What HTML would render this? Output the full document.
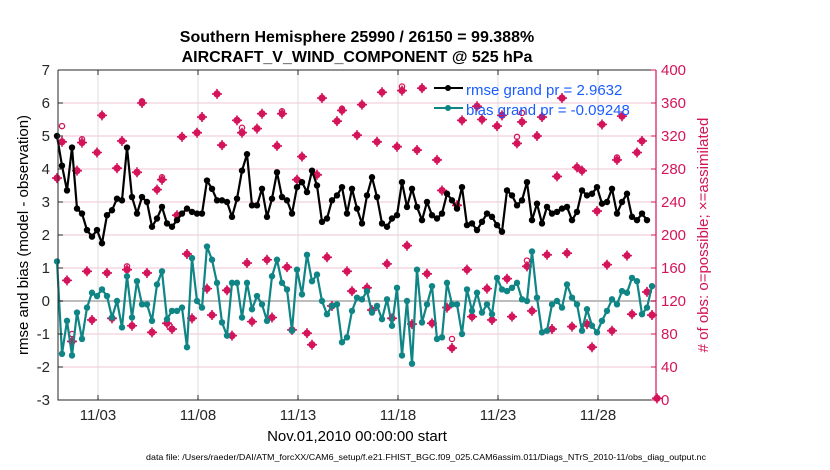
<!DOCTYPE html>
<html><head><meta charset="utf-8"><style>
body{margin:0;background:#fff;}
svg{display:block;font-family:"Liberation Sans",Arial,sans-serif;}
</style></head><body>
<svg id="chart" width="830" height="470" viewBox="0 0 830 470" xmlns="http://www.w3.org/2000/svg">
<text x="357" y="42" text-anchor="middle" font-size="16" font-weight="bold">Southern Hemisphere 25990 / 26150 = 99.388%</text>
<text x="357" y="62" text-anchor="middle" font-size="16" font-weight="bold">AIRCRAFT_V_WIND_COMPONENT @ 525 hPa</text>
<g id="grid"></g>
<g id="series"></g>
<g id="axes"></g>
<text transform="translate(28,235) rotate(-90)" text-anchor="middle" font-size="15">rmse and bias (model - observation)</text>
<text transform="translate(708,235) rotate(-90)" text-anchor="middle" font-size="15" fill="#d4145a"># of obs: o=possible; ×=assimilated</text>
<text x="357" y="441" text-anchor="middle" font-size="15">Nov.01,2010 00:00:00 start</text>
<text x="426" y="460" text-anchor="middle" font-size="8.5" textLength="560" lengthAdjust="spacingAndGlyphs">data file: /Users/raeder/DAI/ATM_forcXX/CAM6_setup/f.e21.FHIST_BGC.f09_025.CAM6assim.011/Diags_NTrS_2010-11/obs_diag_output.nc</text>
<g>
<line x1="434" y1="88" x2="463" y2="88" stroke="#000" stroke-width="2"/>
<circle cx="448" cy="88" r="3" fill="#000"/>
<text x="466" y="95" font-size="15" fill="#1a5cff">rmse grand pr = 2.9632</text>
<line x1="434" y1="108" x2="463" y2="108" stroke="#0f8585" stroke-width="2"/>
<circle cx="448" cy="108" r="3" fill="#0f8585"/>
<text x="466" y="115" font-size="15" fill="#1a5cff">bias grand pr = -0.09248</text>
</g>
</svg>
<script>
const rmse=[5.0,4.1,3.35,4.65,2.8,2.65,2.15,1.95,2.15,1.75,2.6,2.75,3.1,3.05,4.65,3.15,2.65,3.15,3.0,2.25,2.5,2.85,2.35,2.25,2.45,2.65,2.8,2.7,2.65,2.65,3.65,3.4,3.05,3.05,3.0,2.55,3.1,3.95,4.45,2.9,2.9,
3.4,2.55,3.1,3.9,3.15,3.05,2.65,3.45,3.6,3.3,3.95,3.5,2.4,2.5,3.05,3.2,3.45,2.65,3.4,2.8,2.35,3.2,3.75,3.15,2.35,2.25,2.5,2.6,3.6,2.85,3.4,2.85,2.45,3.0,2.6,2.5,2.65,
3.25,3.05,2.8,3.45,2.3,2.35,2.15,2.4,2.65,2.55,2.3,2.1,3.35,3.2,2.9,3.05,3.6,2.45,2.95,2.35,2.85,2.65,2.7,2.8,2.85,2.45,2.7,3.35,3.2,3.25,3.45,2.95,3.0,3.4,2.65,3.0,3.25,2.55,2.45,2.65,2.45];
const bias=[1.2,-1.6,-0.6,-1.65,-0.35,-1.15,-0.2,0.25,0.15,0.35,0.15,-0.5,0.0,-0.8,0.75,-0.5,0.6,-0.1,-0.1,-0.6,0.5,0.9,-0.55,-0.3,-0.3,-0.2,-1.4,1.3,0.0,-0.2,1.65,1.25,0.55,-0.65,-1.05,0.55,0.55,-0.5,0.55,-0.25,0.15,
-0.1,-0.6,0.75,1.25,0.55,0.35,-0.9,0.95,0.2,1.4,0.6,0.8,0.0,-0.4,-0.15,-0.1,-1.25,-1.1,-0.3,0.1,0.05,0.3,-0.35,-0.15,-0.55,0.05,-0.75,0.4,-1.65,0.0,-1.9,0.95,-0.65,-0.1,0.45,-1.15,-1.1,0.55,
-0.1,-0.1,-1.0,0.35,-0.3,0.25,-0.35,-0.1,-0.4,0.7,0.35,0.3,0.4,0.55,0.05,0.0,1.5,0.1,-0.95,-0.9,-0.1,0.0,-0.2,0.5,0.1,-0.1,-0.9,-0.25,-0.75,-0.95,-0.6,-0.3,0.05,-0.1,0.3,0.25,0.7,0.6,-0.4,-0.2,0.45];
const nAssim=[269,313,145,71,278,312,156,97,300,345,154,99,281,314,158,90,276,360,154,82,255,267,93,86,224,319,177,99,324,343,135,103,371,309,133,78,339,324,166,95,329,
347,170,100,308,347,161,85,267,295,81,67,273,366,173,114,338,351,156,132,321,358,136,109,313,373,165,99,307,375,187,92,303,378,153,93,291,254,112,63,236,339,
158,101,356,340,135,97,332,345,147,101,311,337,162,108,320,343,176,86,271,366,178,89,282,278,92,64,229,334,164,84,291,344,175,104,300,314,131,103,2];
const nPoss=[269,332,145,80,278,316,156,97,300,345,154,99,281,314,162,90,276,362,154,82,255,270,93,86,224,319,177,99,324,343,135,103,371,309,133,78,339,330,166,95,329,
347,170,100,308,350,161,85,267,295,81,67,273,366,173,114,338,353,156,132,321,358,136,109,313,373,165,99,307,380,187,92,303,378,153,93,291,254,112,74,236,339,
158,101,356,340,135,97,332,345,147,101,319,348,169,108,320,343,176,86,271,366,178,89,282,278,92,64,229,334,164,84,294,344,175,104,300,314,131,103,2];
const yTicksL=[-3,-2,-1,0,1,2,3,4,5,6,7];
const yTicksR=[0,40,80,120,160,200,240,280,320,360,400];
const xTickLabels=["11/03","11/08","11/13","11/18","11/23","11/28"];
const xTickIdx=[8.2,28.2,48.2,68.2,88.2,108.2];

const L=58,R=656,T=70,B=400;
const NS="http://www.w3.org/2000/svg";
const xS=i=>57+5*i;
const yL=v=>B-(v+3)*(B-T)/10;
const yR=v=>B-v*(B-T)/400;
function mk(tag,attrs,parent){const e=document.createElementNS(NS,tag);for(const k in attrs)e.setAttribute(k,attrs[k]);parent.appendChild(e);return e;}
const grid=document.getElementById('grid'),ser=document.getElementById('series'),ax=document.getElementById('axes');
const PINK="#d4145a";
yTicksL.forEach(v=>{if(v>-3&&v<7){const l=mk('line',{x1:L,x2:R,y1:yL(v),y2:yL(v),stroke:'#f2c6d6','stroke-width':1},grid);

}});
xTickIdx.forEach(t=>{const l=mk('line',{x1:xS(t),x2:xS(t),y1:T,y2:B,stroke:'#dcdcdc','stroke-width':1},grid);

});
const z=mk('line',{x1:L,x2:R,y1:yL(0),y2:yL(0),stroke:'#bdbdbd','stroke-width':2},grid);


nPoss.forEach((v,i)=>{if(v!==nAssim[i]){const c=mk('circle',{cx:xS(i),cy:yR(v),r:2.6,fill:'none',stroke:PINK,'stroke-width':1.3},ser);

}});
nAssim.forEach((v,i)=>{const g=mk('g',{transform:`translate(${xS(i)},${yR(v)})`},ser);


mk('circle',{r:3.6,fill:PINK},g);
mk('path',{d:'M-5,0H5M0,-5V5',stroke:PINK,'stroke-width':1.6},g);});
function line(arr,col,name){const p=mk('polyline',{points:arr.map((v,i)=>xS(i)+','+yL(v)).join(' '),fill:'none',stroke:col,'stroke-width':2.2,'stroke-linejoin':'round'},ser);


arr.forEach((v,i)=>{const c=mk('circle',{cx:xS(i),cy:yL(v),r:3.2,fill:col},ser);

});}
line(bias,'#0f8585','bias');
line(rmse,'#000','rmse');
mk('path',{d:`M${L},${T}H${R}M${L},${T}V${B}H${R}`,fill:'none',stroke:'#262626','stroke-width':1},ax);
mk('line',{x1:R,x2:R,y1:T,y2:B,stroke:PINK,'stroke-width':1.2},ax);
yTicksL.forEach(v=>{mk('line',{x1:L,x2:L+5,y1:yL(v),y2:yL(v),stroke:'#262626'},ax);
const t=mk('text',{x:L-8,y:yL(v)+5,'text-anchor':'end','font-size':15,fill:'#262626'},ax);t.textContent=v;

});
yTicksR.forEach(v=>{mk('line',{x1:R-5,x2:R,y1:yR(v),y2:yR(v),stroke:PINK},ax);
const t=mk('text',{x:R+5,y:yR(v)+5,'font-size':15,fill:PINK},ax);t.textContent=v;

});
xTickIdx.forEach((ti,k)=>{mk('line',{x1:xS(ti),x2:xS(ti),y1:B,y2:B-5,stroke:'#262626'},ax);mk('line',{x1:xS(ti),x2:xS(ti),y1:T,y2:T+5,stroke:'#262626'},ax);
const t=mk('text',{x:xS(ti),y:B+20,'text-anchor':'middle','font-size':15,fill:'#262626'},ax);t.textContent=xTickLabels[k];

});
</script>
</body></html>
